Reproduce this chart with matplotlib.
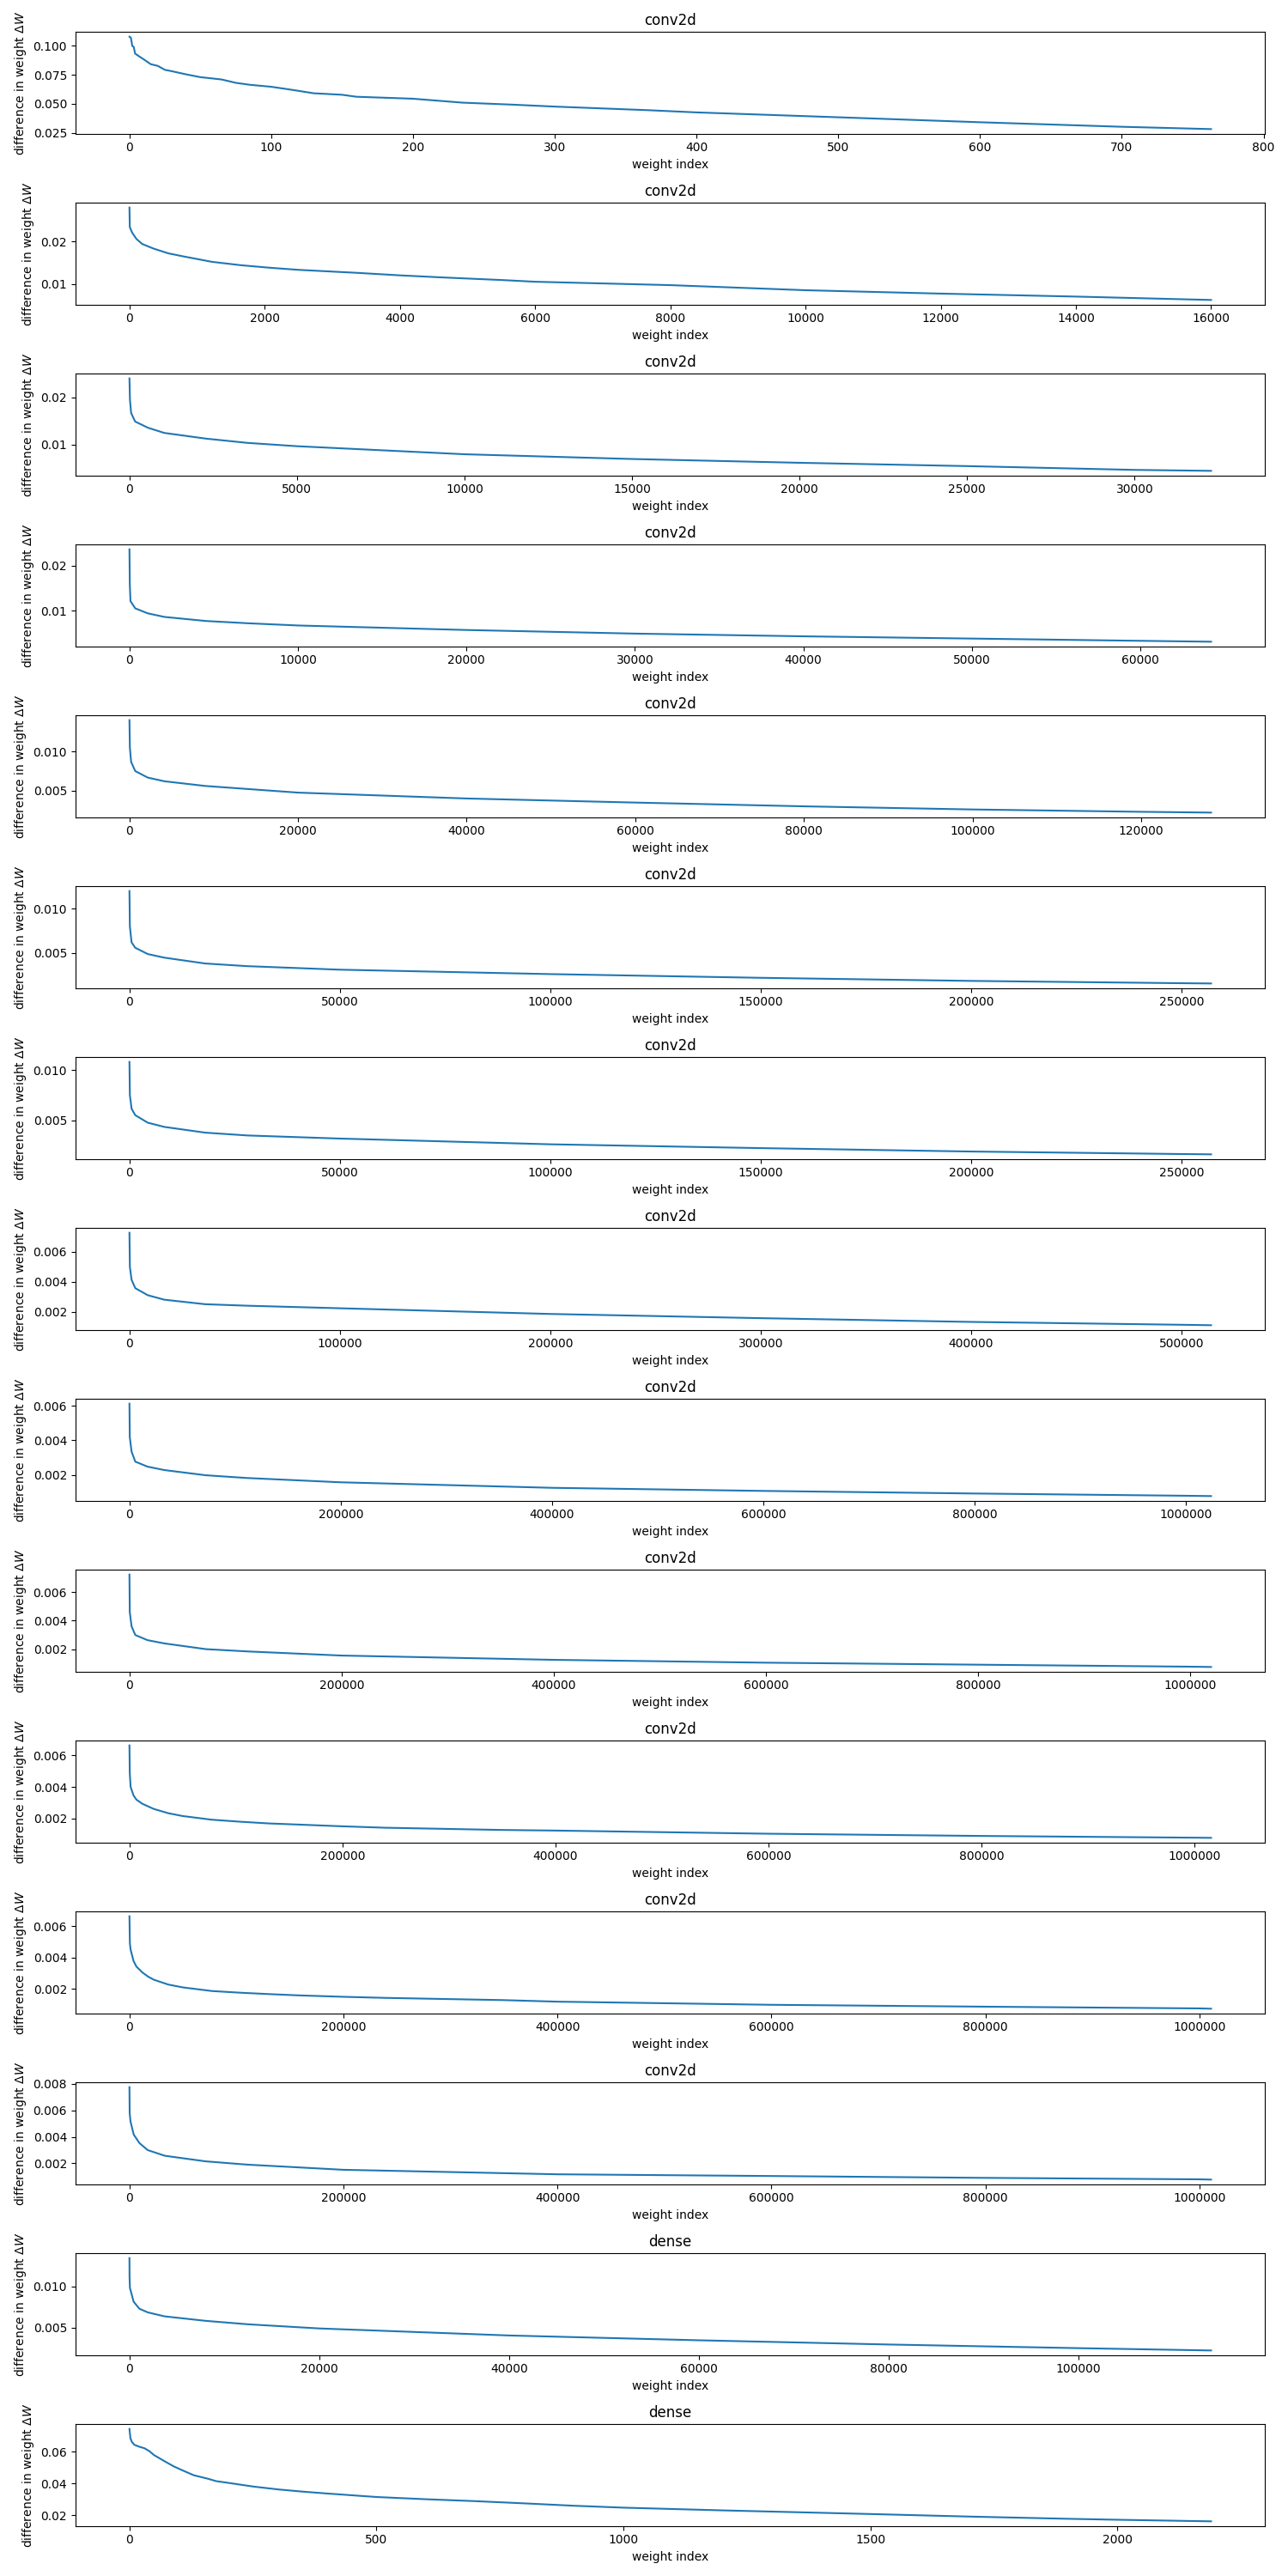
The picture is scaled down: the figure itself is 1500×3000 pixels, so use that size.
import matplotlib
matplotlib.use("Agg")
import matplotlib.pyplot as plt

layer_titles = ["conv2d"] * 13 + ["dense", "dense"]

# Sampled readings (weight index, delta W) for each layer, sorted descending
idx_01 = [0, 1, 2, 3, 4, 7, 10, 15, 20, 25, 30, 40, 50, 65, 75, 85, 100, 115, 130, 150, 160, 200, 235,
          270, 300, 366, 400, 500, 600, 700, 763]
dw_01 = [0.1078, 0.107, 0.0998, 0.099, 0.0932, 0.0907, 0.0883, 0.0841, 0.0826, 0.0792, 0.078, 0.0753, 0.0729,
         0.0709, 0.068, 0.0663, 0.0646, 0.0619, 0.059, 0.0577, 0.056, 0.0543, 0.0509, 0.0492, 0.0475, 0.0444,
         0.0425, 0.0383, 0.0340, 0.0301, 0.0281]

idx_02 = [0, 5, 39, 103, 189, 360, 575, 790, 1219, 1648, 2077, 2506, 3365, 4009, 4652, 5511, 6000, 8000,
          10000, 12000, 14000, 16000]
dw_02 = [0.0280, 0.0234, 0.0221, 0.0206, 0.0194, 0.0183, 0.0172, 0.0165, 0.0152, 0.0144, 0.0138, 0.0133,
         0.0126, 0.0120, 0.0115, 0.0109, 0.0105, 0.0097, 0.0085, 0.0077, 0.0070, 0.0062]

idx_03 = [0, 15, 50, 170, 550, 1040, 2280, 3520, 5000, 10000, 15000, 20000, 25000, 30000, 32280]
dw_03 = [0.0240, 0.0195, 0.0167, 0.0149, 0.0136, 0.0125, 0.0113, 0.0104, 0.0097, 0.0080, 0.0070, 0.0062,
         0.0055, 0.0047, 0.0045]

idx_04 = [0, 20, 60, 345, 1080, 2070, 4530, 7000, 10000, 20000, 30000, 40000, 50000, 60000, 64200]
dw_04 = [0.0236, 0.0160, 0.0121, 0.0105, 0.0094, 0.0086, 0.0077, 0.0072, 0.0067, 0.0057, 0.0049, 0.0043,
         0.0038, 0.0033, 0.0031]

idx_05 = [0, 50, 200, 690, 2170, 4140, 9000, 20000, 40000, 60000, 80000, 100000, 120000, 128300]
dw_05 = [0.0140, 0.0105, 0.00866, 0.0075, 0.00667, 0.0062, 0.0056, 0.00475, 0.0040, 0.00348, 0.0030,
         0.0026, 0.0023, 0.0022]

idx_06 = [0, 100, 500, 1380, 4350, 8300, 18000, 28000, 50000, 100000, 150000, 200000, 250000, 257000]
dw_06 = [0.0120, 0.0080, 0.0062, 0.00558, 0.00487, 0.00446, 0.0038, 0.0035, 0.0031, 0.0026, 0.00218,
         0.00183, 0.00157, 0.00154]

idx_07 = [0, 100, 500, 1380, 4350, 8300, 18000, 28000, 50000, 100000, 150000, 200000, 250000, 257000]
dw_07 = [0.0108, 0.0075, 0.00615, 0.0055, 0.00475, 0.00433, 0.00376, 0.00348, 0.00317, 0.0026, 0.00222,
         0.00188, 0.00163, 0.0016]

idx_08 = [0, 200, 1000, 2770, 8700, 16600, 36000, 56000, 100000, 200000, 300000, 400000, 500000, 514000]
dw_08 = [0.00726, 0.0050, 0.00413, 0.00357, 0.0031, 0.0028, 0.0025, 0.0024, 0.00223, 0.00185, 0.00157,
         0.00132, 0.00113, 0.0011]

idx_09 = [0, 300, 2000, 5500, 17000, 33000, 72000, 111000, 200000, 400000, 600000, 800000, 1000000, 1024000]
dw_09 = [0.00613, 0.0042, 0.00335, 0.00277, 0.00248, 0.00228, 0.00198, 0.00182, 0.00157, 0.00125, 0.00107,
         0.00092, 0.00079, 0.00077]

idx_10 = [0, 300, 2000, 5500, 17000, 33000, 72000, 111000, 200000, 400000, 600000, 800000, 1000000, 1019600]
dw_10 = [0.00723, 0.0046, 0.0036, 0.00299, 0.00263, 0.0024, 0.0020, 0.00184, 0.00155, 0.00125, 0.00105,
         0.00091, 0.00077, 0.00075]

idx_11 = [0, 300, 1100, 3800, 6500, 12000, 22800, 36400, 50000, 77000, 104000, 131500, 158700, 200000,
          240000, 294600, 349000, 400000, 600000, 800000, 1000000, 1015600]
dw_11 = [0.00663, 0.0049, 0.0040, 0.00347, 0.0032, 0.00294, 0.00261, 0.00234, 0.00216, 0.00193, 0.0018,
         0.00169, 0.00162, 0.00151, 0.00142, 0.00135, 0.00128, 0.00124, 0.00104, 0.0009, 0.00079, 0.00078]

idx_12 = [0, 400, 1100, 3800, 6500, 12000, 17400, 22800, 36400, 50000, 77000, 104000, 131500, 158700,
          200000, 240000, 294600, 349000, 400000, 600000, 800000, 1000000, 1010900]
dw_12 = [0.00663, 0.0049, 0.0045, 0.00378, 0.00342, 0.00305, 0.00278, 0.00258, 0.00227, 0.00209, 0.00186,
         0.00175, 0.00166, 0.00158, 0.00149, 0.00142, 0.00135, 0.00128, 0.00118, 0.00098, 0.00086, 0.00075,
         0.00073]

idx_13 = [0, 200, 1000, 4000, 9300, 17000, 33000, 71000, 110000, 200000, 400000, 600000, 800000, 1000000,
          1010900]
dw_13 = [0.00775, 0.0058, 0.00515, 0.00417, 0.00353, 0.0030, 0.00257, 0.00215, 0.0019, 0.00151, 0.00117,
         0.00104, 0.0009, 0.00079, 0.00077]

idx_14 = [0, 10, 50, 440, 1050, 1930, 3700, 8000, 12500, 20000, 40000, 60000, 80000, 100000, 114000]
dw_14 = [0.0134, 0.0112, 0.0098, 0.00813, 0.00728, 0.00684, 0.00636, 0.00582, 0.0054, 0.0049, 0.00405,
         0.00347, 0.00296, 0.00252, 0.00224]

idx_15 = [0, 2, 5, 10, 20, 30, 40, 50, 60, 75, 90, 110, 130, 160, 175, 200, 250, 300, 350, 400, 500, 600,
          700, 800, 900, 1000, 1200, 1500, 1700, 1900, 2000, 2190]
dw_15 = [0.0744, 0.0685, 0.0662, 0.0644, 0.0632, 0.0623, 0.0605, 0.0579, 0.0561, 0.0534, 0.0508, 0.048,
         0.0453, 0.043, 0.0416, 0.0405, 0.0382, 0.0364, 0.035, 0.0338, 0.0316, 0.0302, 0.029, 0.0276, 0.0261,
         0.0249, 0.0232, 0.0209, 0.0193, 0.0179, 0.0173, 0.0163]

indices = [idx_01, idx_02, idx_03, idx_04, idx_05, idx_06, idx_07, idx_08, idx_09, idx_10, idx_11, idx_12,
           idx_13, idx_14, idx_15]
deltas = [dw_01, dw_02, dw_03, dw_04, dw_05, dw_06, dw_07, dw_08, dw_09, dw_10, dw_11, dw_12, dw_13, dw_14,
          dw_15]

fig, axes = plt.subplots(len(layer_titles), 1, figsize=(15, 30), dpi=100)
for ax, title, xs, ys in zip(axes, layer_titles, indices, deltas):
    ax.plot(xs, ys, color="#1f77b4", linewidth=1.5)
    ax.set_title(title)
    ax.set_xlabel("weight index")
    ax.set_ylabel(r"difference in weight $\Delta W$")
    ax.ticklabel_format(axis="x", style="plain", useOffset=False)

fig.tight_layout()
fig.savefig("out.png", dpi=100)
